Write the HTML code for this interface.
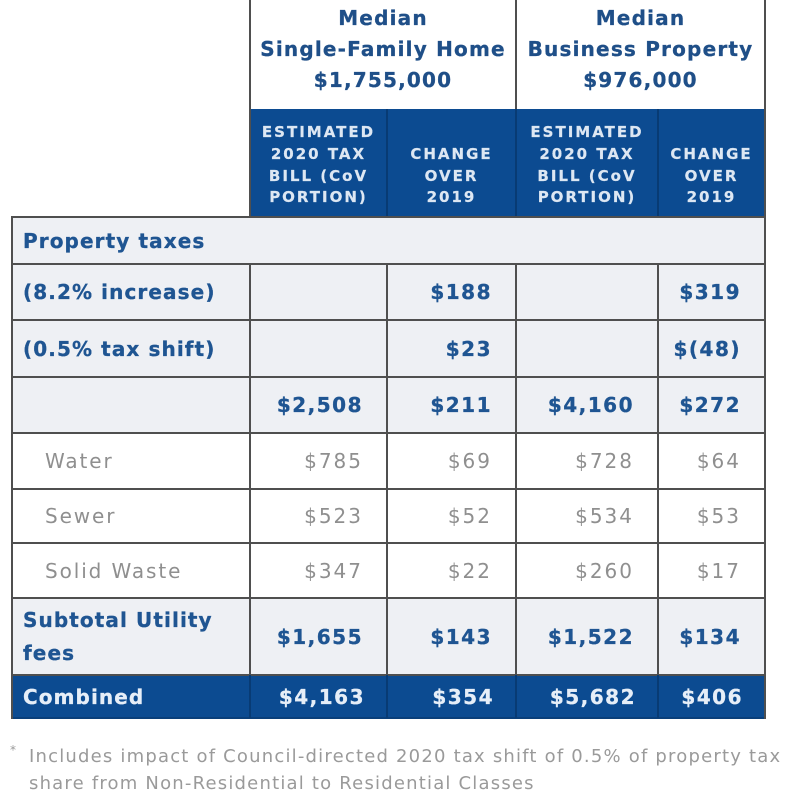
<!DOCTYPE html>
<html>
<head>
<meta charset="utf-8">
<style>
  html,body{margin:0;padding:0;background:#fff;}
  body{width:800px;height:811px;position:relative;overflow:hidden;font-family:"DejaVu Sans","Liberation Sans",sans-serif;}
  .a{position:absolute;box-sizing:border-box;}
  .c{position:absolute;box-sizing:border-box;display:flex;align-items:center;white-space:nowrap;}
  .hl{position:absolute;height:2px;background:#4f4f4f;}
  .vl{position:absolute;width:2px;background:#4f4f4f;}
  .vb{position:absolute;width:2px;background:#083b74;}
  .hd{font-weight:bold;font-size:20px;letter-spacing:1.2px;color:#1f4f88;line-height:31px;text-align:center;-webkit-text-stroke:0.3px #1f4f88;}
  .bh{display:flex;flex-direction:column;justify-content:flex-end;align-items:center;padding-bottom:7px;font-weight:bold;font-size:15px;letter-spacing:2px;color:#dde7f3;line-height:21.7px;text-align:center;-webkit-text-stroke:0.2px #dde7f3;}
  .lb{font-weight:bold;font-size:20px;letter-spacing:1.1px;color:#1f5592;padding-left:10px;-webkit-text-stroke:0.3px #1f5592;}
  .v{font-weight:bold;font-size:20px;letter-spacing:1.5px;color:#1f5592;justify-content:flex-end;padding-right:23px;-webkit-text-stroke:0.3px #1f5592;}
  .gl{font-size:20px;letter-spacing:1.9px;color:#8f8f8f;padding-left:32px;}
  .gv{font-size:20px;letter-spacing:2px;color:#8f8f8f;justify-content:flex-end;padding-right:23px;}
  .w{color:#e6eef8;-webkit-text-stroke:0.3px #e6eef8;}
  .fn{position:absolute;left:29px;font-size:18px;letter-spacing:1.2px;color:#9a9a9a;white-space:nowrap;line-height:22px;}
</style>
</head>
<body>

<!-- backgrounds -->
<div class="a" style="left:12px;top:217px;width:753px;height:216px;background:#eef0f4;"></div>
<div class="a" style="left:12px;top:433px;width:753px;height:165px;background:#fff;"></div>
<div class="a" style="left:12px;top:598px;width:753px;height:77px;background:#eef0f4;"></div>
<div class="a" style="left:12px;top:675px;width:753px;height:43px;background:#0c4b91;"></div>
<div class="a" style="left:250px;top:109px;width:515px;height:107px;background:#0c4b91;"></div>

<!-- horizontal lines -->
<div class="hl" style="left:11px;top:216px;width:755px;"></div>
<div class="hl" style="left:11px;top:263px;width:755px;"></div>
<div class="hl" style="left:11px;top:319px;width:755px;"></div>
<div class="hl" style="left:11px;top:376px;width:755px;"></div>
<div class="hl" style="left:11px;top:432px;width:755px;"></div>
<div class="hl" style="left:11px;top:488px;width:755px;"></div>
<div class="hl" style="left:11px;top:542px;width:755px;"></div>
<div class="hl" style="left:11px;top:597px;width:755px;"></div>
<div class="hl" style="left:11px;top:674px;width:755px;"></div>
<div class="a" style="left:11px;top:717px;width:755px;height:2px;background:#0a3f7a;"></div>

<!-- vertical lines -->
<div class="vl" style="left:11px;top:216px;height:503px;"></div>
<div class="vl" style="left:764px;top:0px;height:719px;"></div>
<div class="vl" style="left:249px;top:0px;height:218px;"></div>
<div class="vl" style="left:249px;top:263px;height:412px;"></div>
<div class="vb" style="left:249px;top:675px;height:43px;"></div>
<div class="vl" style="left:515px;top:0px;height:109px;"></div>
<div class="vb" style="left:515px;top:109px;height:107px;"></div>
<div class="vl" style="left:515px;top:263px;height:412px;"></div>
<div class="vb" style="left:515px;top:675px;height:43px;"></div>
<div class="vb" style="left:386px;top:109px;height:107px;"></div>
<div class="vl" style="left:386px;top:263px;height:412px;"></div>
<div class="vb" style="left:386px;top:675px;height:43px;"></div>
<div class="vb" style="left:657px;top:109px;height:107px;"></div>
<div class="vl" style="left:657px;top:263px;height:412px;"></div>
<div class="vb" style="left:657px;top:675px;height:43px;"></div>

<!-- top header -->
<div class="a hd" style="left:251px;top:3px;width:264px;">Median<br>Single-Family Home<br>$1,755,000</div>
<div class="a hd" style="left:517px;top:3px;width:247px;">Median<br>Business Property<br>$976,000</div>

<!-- blue header -->
<div class="a bh" style="left:251px;top:109px;width:135px;height:107px;"><div>ESTIMATED<br>2020 TAX<br>BILL (CoV<br>PORTION)</div></div>
<div class="a bh" style="left:388px;top:109px;width:127px;height:107px;"><div>CHANGE<br>OVER<br>2019</div></div>
<div class="a bh" style="left:517px;top:109px;width:140px;height:107px;"><div>ESTIMATED<br>2020 TAX<br>BILL (CoV<br>PORTION)</div></div>
<div class="a bh" style="left:659px;top:109px;width:105px;height:107px;"><div>CHANGE<br>OVER<br>2019</div></div>

<!-- Property taxes row -->
<div class="c lb" style="left:13px;top:218px;width:600px;height:45px;">Property taxes</div>

<!-- 8.2% row -->
<div class="c lb" style="left:13px;top:265px;width:236px;height:54px;">(8.2% increase)</div>
<div class="c v" style="left:388px;top:265px;width:127px;height:54px;">$188</div>
<div class="c v" style="left:659px;top:265px;width:105px;height:54px;">$319</div>

<!-- 0.5% row -->
<div class="c lb" style="left:13px;top:321px;width:236px;height:55px;">(0.5% tax shift)</div>
<div class="c v" style="left:388px;top:321px;width:127px;height:55px;">$23</div>
<div class="c v" style="left:659px;top:321px;width:105px;height:55px;">$(48)</div>

<!-- totals row -->
<div class="c v" style="left:251px;top:378px;width:135px;height:54px;">$2,508</div>
<div class="c v" style="left:388px;top:378px;width:127px;height:54px;">$211</div>
<div class="c v" style="left:517px;top:378px;width:140px;height:54px;">$4,160</div>
<div class="c v" style="left:659px;top:378px;width:105px;height:54px;">$272</div>

<!-- Water -->
<div class="c gl" style="left:13px;top:434px;width:236px;height:54px;">Water</div>
<div class="c gv" style="left:251px;top:434px;width:135px;height:54px;">$785</div>
<div class="c gv" style="left:388px;top:434px;width:127px;height:54px;">$69</div>
<div class="c gv" style="left:517px;top:434px;width:140px;height:54px;">$728</div>
<div class="c gv" style="left:659px;top:434px;width:105px;height:54px;">$64</div>

<!-- Sewer -->
<div class="c gl" style="left:13px;top:490px;width:236px;height:52px;">Sewer</div>
<div class="c gv" style="left:251px;top:490px;width:135px;height:52px;">$523</div>
<div class="c gv" style="left:388px;top:490px;width:127px;height:52px;">$52</div>
<div class="c gv" style="left:517px;top:490px;width:140px;height:52px;">$534</div>
<div class="c gv" style="left:659px;top:490px;width:105px;height:52px;">$53</div>

<!-- Solid Waste -->
<div class="c gl" style="left:13px;top:544px;width:236px;height:53px;">Solid Waste</div>
<div class="c gv" style="left:251px;top:544px;width:135px;height:53px;">$347</div>
<div class="c gv" style="left:388px;top:544px;width:127px;height:53px;">$22</div>
<div class="c gv" style="left:517px;top:544px;width:140px;height:53px;">$260</div>
<div class="c gv" style="left:659px;top:544px;width:105px;height:53px;">$17</div>

<!-- Subtotal -->
<div class="c lb" style="left:13px;top:599px;width:236px;height:75px;line-height:33px;white-space:normal;"><div>Subtotal Utility<br>fees</div></div>
<div class="c v" style="left:251px;top:599px;width:135px;height:75px;">$1,655</div>
<div class="c v" style="left:388px;top:599px;width:127px;height:75px;">$143</div>
<div class="c v" style="left:517px;top:599px;width:140px;height:75px;">$1,522</div>
<div class="c v" style="left:659px;top:599px;width:105px;height:75px;">$134</div>

<!-- Combined -->
<div class="c lb w" style="left:13px;top:676px;width:236px;height:41px;">Combined</div>
<div class="c v w" style="left:251px;top:676px;width:135px;height:41px;padding-right:21px;">$4,163</div>
<div class="c v w" style="left:388px;top:676px;width:127px;height:41px;padding-right:21px;">$354</div>
<div class="c v w" style="left:517px;top:676px;width:140px;height:41px;padding-right:21px;">$5,682</div>
<div class="c v w" style="left:659px;top:676px;width:105px;height:41px;padding-right:21px;">$406</div>

<!-- footnote -->
<div class="a" style="left:10px;top:743px;font-size:12px;color:#9a9a9a;">*</div>
<div class="fn" style="top:746px;">Includes impact of Council-directed 2020 tax shift of 0.5% of property tax</div>
<div class="fn" style="top:773px;">share from Non-Residential to Residential Classes</div>

</body>
</html>
